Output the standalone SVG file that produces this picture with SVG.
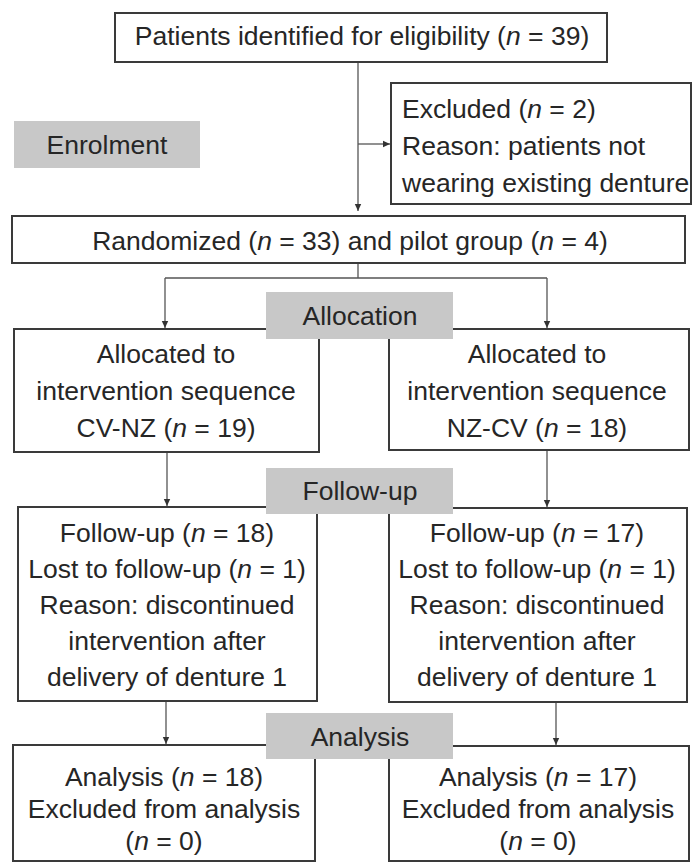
<svg xmlns="http://www.w3.org/2000/svg" width="694" height="863" viewBox="0 0 694 863">
<style>
.box{fill:#fff;stroke:#3a3a3a;stroke-width:2}
.stage{fill:#c8c8c8;stroke:none}
text{font-family:"Liberation Sans",Arial,sans-serif;font-size:26.5px;fill:#262626}
.c{text-anchor:middle}
.i{font-style:italic}
.conn{fill:none;stroke:#555;stroke-width:1.3}
</style>
<defs>
<marker id="ah" markerUnits="userSpaceOnUse" markerWidth="8" markerHeight="8" refX="7" refY="4" orient="auto">
<path d="M0,0.8 L7,4 L0,7.2 Z" fill="#333"/>
</marker>
</defs>
<rect width="694" height="863" fill="#fff"/>
<g id="connectors">
<path class="conn" d="M358,63 V211" marker-end="url(#ah)"/>
<path class="conn" d="M358,144 H390" marker-end="url(#ah)"/>
<path class="conn" d="M358,263 V278 M165,278 H547"/>
<path class="conn" d="M165,278 V328" marker-end="url(#ah)"/>
<path class="conn" d="M547,278 V328" marker-end="url(#ah)"/>
<path class="conn" d="M167,452 V506" marker-end="url(#ah)"/>
<path class="conn" d="M547,450 V507" marker-end="url(#ah)"/>
<path class="conn" d="M166,701 V744" marker-end="url(#ah)"/>
<path class="conn" d="M556,702 V745" marker-end="url(#ah)"/>
</g>
<g id="identified">
<rect class="box" x="115" y="13" width="492" height="49"/>
<text class="c" x="362" y="45">Patients identified for eligibility (<tspan class="i">n</tspan> = 39)</text>
</g>
<g id="enrolment">
<rect class="stage" x="14" y="121" width="186" height="47"/>
<text class="c" x="107" y="154">Enrolment</text>
</g>
<g id="excluded">
<rect class="box" x="391" y="83" width="300" height="121"/>
<text x="402" y="118">Excluded (<tspan class="i">n</tspan> = 2)</text>
<text x="402" y="155">Reason: patients not</text>
<text x="402" y="192">wearing existing denture</text>
</g>
<g id="randomized">
<rect class="box" x="12" y="216" width="673" height="47"/>
<text class="c" x="350" y="250">Randomized (<tspan class="i">n</tspan> = 33) and pilot group (<tspan class="i">n</tspan> = 4)</text>
</g>
<g id="alloc-left">
<rect class="box" x="14" y="329" width="305" height="123"/>
<text class="c" x="166" y="363">Allocated to</text>
<text class="c" x="166" y="400">intervention sequence</text>
<text class="c" x="166" y="437">CV-NZ (<tspan class="i">n</tspan> = 19)</text>
</g>
<g id="alloc-right">
<rect class="box" x="389" y="329" width="300" height="121"/>
<text class="c" x="537" y="363">Allocated to</text>
<text class="c" x="537" y="400">intervention sequence</text>
<text class="c" x="537" y="437">NZ-CV (<tspan class="i">n</tspan> = 18)</text>
</g>
<g id="allocation">
<rect class="stage" x="266" y="292" width="187" height="47"/>
<text class="c" x="360" y="325">Allocation</text>
</g>
<g id="follow-left">
<rect class="box" x="18" y="507" width="299" height="194"/>
<text class="c" x="167" y="542">Follow-up (<tspan class="i">n</tspan> = 18)</text>
<text class="c" x="167" y="578">Lost to follow-up (<tspan class="i">n</tspan> = 1)</text>
<text class="c" x="167" y="614">Reason: discontinued</text>
<text class="c" x="167" y="650">intervention after</text>
<text class="c" x="167" y="686">delivery of denture 1</text>
</g>
<g id="follow-right">
<rect class="box" x="389" y="508" width="298" height="194"/>
<text class="c" x="537" y="542">Follow-up (<tspan class="i">n</tspan> = 17)</text>
<text class="c" x="537" y="578">Lost to follow-up (<tspan class="i">n</tspan> = 1)</text>
<text class="c" x="537" y="614">Reason: discontinued</text>
<text class="c" x="537" y="650">intervention after</text>
<text class="c" x="537" y="686">delivery of denture 1</text>
</g>
<g id="followup">
<rect class="stage" x="266" y="468" width="187" height="46"/>
<text class="c" x="360" y="500">Follow-up</text>
</g>
<g id="analysis-left">
<rect class="box" x="13" y="745" width="302" height="116"/>
<text class="c" x="164" y="786">Analysis (<tspan class="i">n</tspan> = 18)</text>
<text class="c" x="164" y="818">Excluded from analysis</text>
<text class="c" x="164" y="850">(<tspan class="i">n</tspan> = 0)</text>
</g>
<g id="analysis-right">
<rect class="box" x="389" y="746" width="300" height="115"/>
<text class="c" x="538" y="786">Analysis (<tspan class="i">n</tspan> = 17)</text>
<text class="c" x="538" y="818">Excluded from analysis</text>
<text class="c" x="538" y="850">(<tspan class="i">n</tspan> = 0)</text>
</g>
<g id="analysis">
<rect class="stage" x="266" y="713" width="187" height="46"/>
<text class="c" x="360" y="746">Analysis</text>
</g>
</svg>
